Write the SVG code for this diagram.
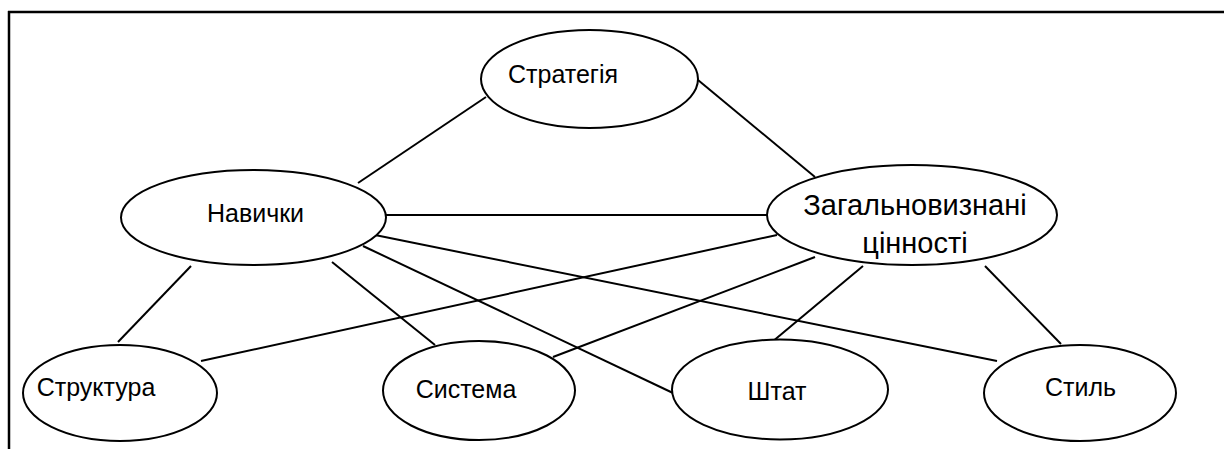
<svg xmlns="http://www.w3.org/2000/svg" width="1224" height="449" viewBox="0 0 1224 449">
<style>
.n{fill:#fff;stroke:#000;stroke-width:2}
.t{font-family:"Liberation Sans",Arial,sans-serif;font-size:25px;fill:#000;text-anchor:middle}
.big{font-size:29px}
.c line{stroke:#000;stroke-width:2}
</style>
<rect width="1224" height="449" fill="#fff"/>
<g id="frame" stroke="#000" stroke-width="2.5" fill="none">
<line x1="8" y1="12" x2="1224" y2="12"/>
<line x1="9" y1="11" x2="9" y2="449"/>
</g>
<g class="c" id="connectors">
<line x1="358" y1="183" x2="486" y2="97"/>
<line x1="698" y1="80" x2="815" y2="177"/>
<line x1="386" y1="215" x2="767" y2="215"/>
<line x1="375" y1="235" x2="997" y2="361"/>
<line x1="363" y1="246" x2="673" y2="393"/>
<line x1="332" y1="262" x2="435" y2="345"/>
<line x1="191" y1="266" x2="118" y2="342"/>
<line x1="777" y1="235" x2="201" y2="361"/>
<line x1="815" y1="257" x2="553" y2="357"/>
<line x1="863" y1="266" x2="772" y2="342"/>
<line x1="985" y1="266" x2="1061" y2="344"/>
</g>
<g id="strategy"><ellipse class="n" cx="589.5" cy="79" rx="108.5" ry="49"/><text class="t" x="563" y="83">Стратегія</text></g>
<g id="skills"><ellipse class="n" cx="253.5" cy="217.5" rx="132.5" ry="47.5"/><text class="t" x="255.5" y="222">Навички</text></g>
<g id="values"><ellipse class="n" cx="912" cy="215" rx="145" ry="50"/><text class="t big" x="915" y="215">Загальновизнані</text><text class="t big" x="915" y="253">цінності</text></g>
<g id="structure"><ellipse class="n" cx="120" cy="393" rx="97" ry="48"/><text class="t" x="96" y="396">Структура</text></g>
<g id="system"><ellipse class="n" cx="479" cy="390.5" rx="96" ry="49.5"/><text class="t" x="466" y="398">Система</text></g>
<g id="staff"><ellipse class="n" cx="780" cy="389.5" rx="108" ry="50"/><text class="t" x="777" y="400">Штат</text></g>
<g id="style"><ellipse class="n" cx="1080" cy="393" rx="96" ry="48"/><text class="t" x="1080.5" y="396">Стиль</text></g>
</svg>
